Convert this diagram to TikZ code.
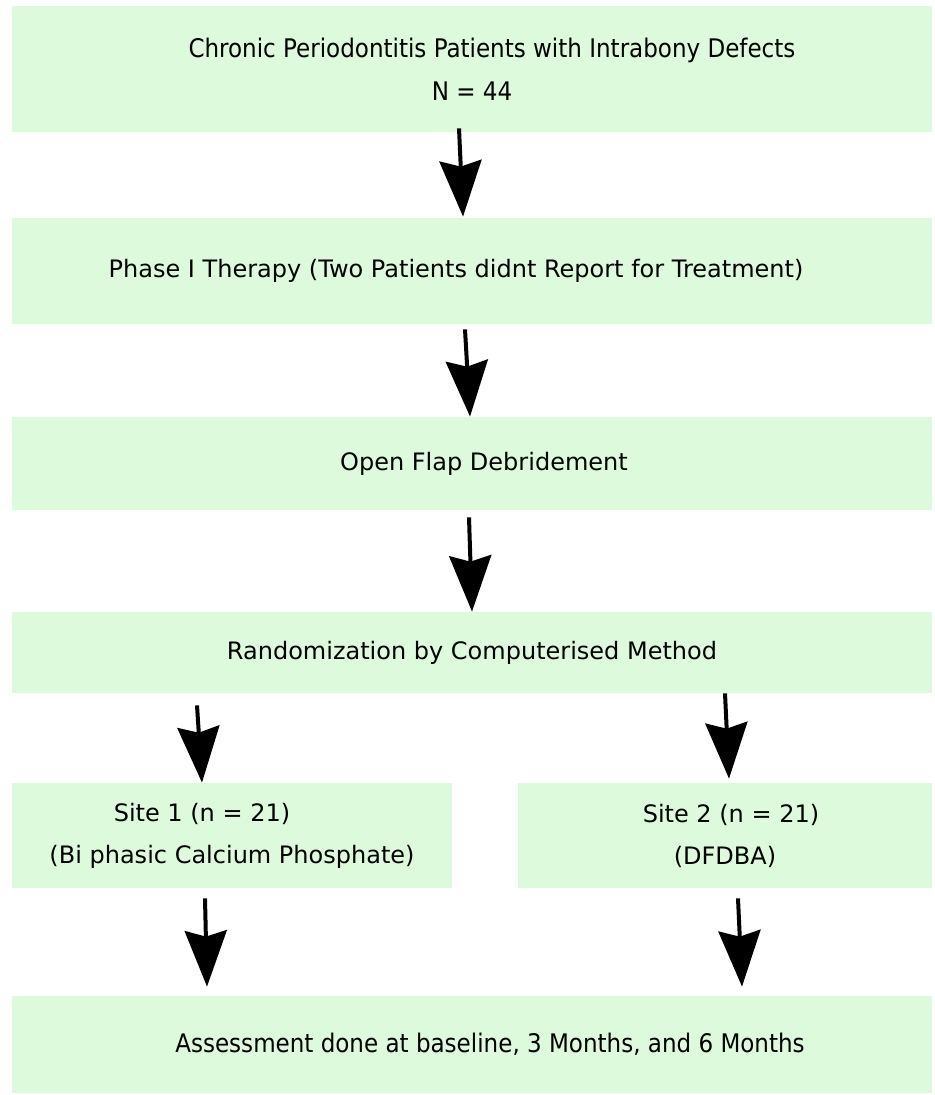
\documentclass[tikz,border=0pt]{standalone}
\usepackage{fontspec}
\setmainfont{DejaVu Sans}
\newfontfamily\condfont{DejaVu Sans Condensed}
\usetikzlibrary{arrows.meta,calc}

\definecolor{boxgreen}{RGB}{221,250,221}

\tikzset{
  stagebox/.style={rectangle,fill=boxgreen,inner sep=0pt,align=center,
    font=\fontsize{12}{21}\selectfont},
  widebox/.style={stagebox,minimum width=460pt},
  condbox/.style={widebox,font=\condfont\fontsize{12.8}{21.5}\selectfont},
  sitebox/.style={stagebox,minimum height=52.5pt},
  flow/.style={-{Stealth[length=28pt,width=21pt,inset=3pt]},line width=2pt,black},
}

\begin{document}
\begin{tikzpicture}[x=0.5pt,y=-0.5pt]
    \useasboundingbox (0,0) rectangle (934,1095);

    % main column
    \node[condbox,minimum height=63pt] (patients) at (472,69)
        {\hspace*{20pt}Chronic Periodontitis Patients with Intrabony Defects\\N = 44};
    \node[widebox,minimum height=53pt] (phase) at (472,271)
        {Phase I Therapy (Two Patients didnt Report for Treatment)\hspace*{16pt}};
    \node[widebox,minimum height=46.5pt] (flap) at (472,463.5)
        {\hspace*{12pt}Open Flap Debridement};
    \node[widebox,minimum height=40.5pt] (random) at (472,652.5)
        {\raisebox{-3pt}{Randomization by Computerised Method}};

    % the two sites
    \node[sitebox,minimum width=220pt] (site1) at (232,835.5)
        {Site 1 (n = 21)\hspace*{30pt}\\(Bi phasic Calcium Phosphate)};
    \node[sitebox,minimum width=207pt] (site2) at (725,835.5)
        {\hspace*{6pt}Site 2 (n = 21)\\(DFDBA)};

    \node[condbox,minimum height=48.5pt] (assess) at (472,1044.5)
        {\hspace*{18pt}Assessment done at baseline, 3 Months, and 6 Months};

    % arrows
    \draw[flow] ($(patients.south)+(-13,-4)$) -- ($(phase.north)+(-9,-1)$);
    \draw[flow] ($(phase.south)+(-7,5)$) -- ($(flap.north)+(-2,0)$);
    \draw[flow] ($(flap.south)+(-3,7)$) -- (random.north);

    \draw[flow] ($(random.south)+(-275,12)$) -- ($(site1.north)+(-30,0)$);
    \draw[flow] ($(random.south)+(253,0)$) -- ($(site2.north)+(4,-4)$);

    \draw[flow] ($(site1.south)+(-27,10)$) -- ($(assess.north)+(-265,-9)$);
    \draw[flow] ($(site2.south)+(13,10)$) -- ($(assess.north)+(270,-9)$);
\end{tikzpicture}
\end{document}
